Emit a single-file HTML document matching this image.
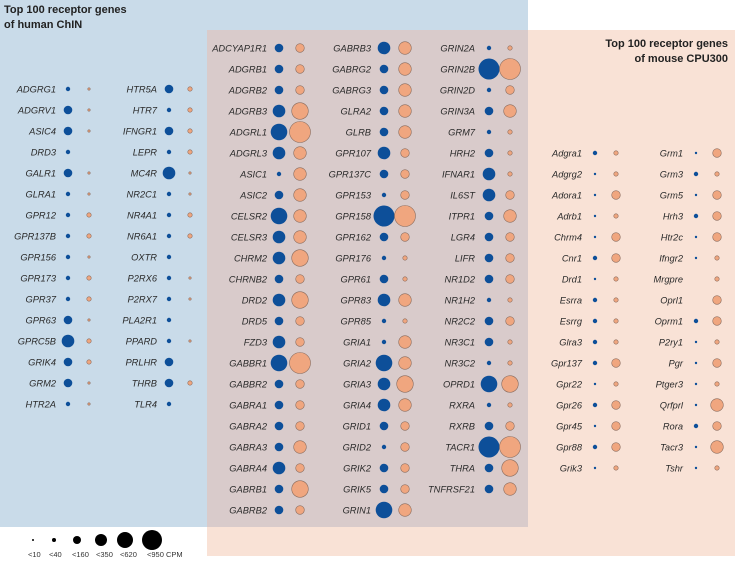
<!DOCTYPE html>
<html><head><meta charset="utf-8"><style>
html,body{margin:0;padding:0;background:#fff;}
svg{display:block;font-family:"Liberation Sans",Arial,sans-serif;}
</style></head><body>
<svg id="chart" width="735" height="561" viewBox="0 0 735 561">
<rect x="0" y="0" width="528" height="527" fill="#c9dbe9"/>
<rect x="207" y="30" width="528" height="526" fill="#f9e2d6"/>
<rect x="207" y="30" width="321" height="497" fill="#d9cbcb"/>
<text x="4" y="13" font-size="11" font-weight="bold" fill="#222">Top 100 receptor genes</text>
<text x="4" y="28" font-size="11" font-weight="bold" fill="#222">of human ChIN</text>
<text x="728" y="47" font-size="11" font-weight="bold" fill="#222" text-anchor="end">Top 100 receptor genes</text>
<text x="728" y="62" font-size="11" font-weight="bold" fill="#222" text-anchor="end">of mouse CPU300</text>
<g id="marks"></g>
<g id="legend"></g>
</svg>
<script>
// size categories: 0:<10 1:<40 2:<160 3:<350 4:<620 5:<950 ; -1 = absent
const sizeLabels = ["<10","<40","<160","<350","<620","<950 CPM"];
const col1Genes = ["ADGRG1","ADGRV1","ASIC4","DRD3","GALR1","GLRA1","GPR12","GPR137B","GPR156","GPR173","GPR37","GPR63","GPRC5B","GRIK4","GRM2","HTR2A"];
const col1Human = [1,2,2,1,2,1,1,1,1,1,1,2,3,2,2,1];
const col1Mouse = [0,0,0,-1,0,0,1,1,0,1,1,0,1,1,0,0];
const col2Genes = ["HTR5A","HTR7","IFNGR1","LEPR","MC4R","NR2C1","NR4A1","NR6A1","OXTR","P2RX6","P2RX7","PLA2R1","PPARD","PRLHR","THRB","TLR4"];
const col2Human = [2,1,2,1,3,1,1,1,1,1,1,1,1,2,2,1];
const col2Mouse = [1,1,1,1,0,0,1,1,-1,0,0,-1,0,-1,1,-1];
const colAGenes = ["ADCYAP1R1","ADGRB1","ADGRB2","ADGRB3","ADGRL1","ADGRL3","ASIC1","ASIC2","CELSR2","CELSR3","CHRM2","CHRNB2","DRD2","DRD5","FZD3","GABBR1","GABBR2","GABRA1","GABRA2","GABRA3","GABRA4","GABRB1","GABRB2"];
const colAHuman = [2,2,2,3,4,3,1,2,4,3,3,2,3,2,3,4,2,2,2,2,3,2,2];
const colAMouse = [2,2,2,4,5,3,3,3,3,3,4,2,4,2,2,5,2,2,2,3,2,4,2];
const colBGenes = ["GABRB3","GABRG2","GABRG3","GLRA2","GLRB","GPR107","GPR137C","GPR153","GPR158","GPR162","GPR176","GPR61","GPR83","GPR85","GRIA1","GRIA2","GRIA3","GRIA4","GRID1","GRID2","GRIK2","GRIK5","GRIN1"];
const colBHuman = [3,2,2,2,2,3,2,1,5,2,1,2,3,1,1,4,3,3,2,1,2,2,4];
const colBMouse = [3,3,3,3,3,2,2,2,5,2,1,1,3,1,3,3,4,3,2,2,2,2,3];
const colCGenes = ["GRIN2A","GRIN2B","GRIN2D","GRIN3A","GRM7","HRH2","IFNAR1","IL6ST","ITPR1","LGR4","LIFR","NR1D2","NR1H2","NR2C2","NR3C1","NR3C2","OPRD1","RXRA","RXRB","TACR1","THRA","TNFRSF21"];
const colCHuman = [1,5,1,2,1,2,3,3,2,2,2,2,1,2,2,1,4,1,2,5,2,2];
const colCMouse = [1,5,2,3,1,1,1,2,3,2,2,2,1,2,1,1,4,1,2,5,4,3];
const colDGenes = ["Adgra1","Adgrg2","Adora1","Adrb1","Chrm4","Cnr1","Drd1","Esrra","Esrrg","Glra3","Gpr137","Gpr22","Gpr26","Gpr45","Gpr88","Grik3"];
const colDHuman = [1,0,0,0,0,1,0,1,1,1,1,0,1,0,1,0];
const colDMouse = [1,1,2,1,2,2,1,1,1,1,2,1,2,2,2,1];
const colEGenes = ["Grm1","Grm3","Grm5","Hrh3","Htr2c","Ifngr2","Mrgpre","Oprl1","Oprm1","P2ry1","Pgr","Ptger3","Qrfprl","Rora","Tacr3","Tshr"];
const colEHuman = [0,1,0,1,0,0,-1,-1,1,0,0,0,0,1,0,0];
const colEMouse = [2,1,2,2,2,1,1,2,2,1,2,1,3,2,3,1];

const NS = "http://www.w3.org/2000/svg";
const radii = [1.2,2.2,4.3,6.3,8.3,10.5];
function rScale(c){ return radii[c]; }
const svgMarks = document.getElementById("marks");
const columns = [
  {g:col1Genes,h:col1Human,m:col1Mouse,lx:56,bx:68,ox:89,y0:89},
  {g:col2Genes,h:col2Human,m:col2Mouse,lx:157,bx:169,ox:190,y0:89},
  {g:colAGenes,h:colAHuman,m:colAMouse,lx:267,bx:279,ox:300,y0:48},
  {g:colBGenes,h:colBHuman,m:colBMouse,lx:371,bx:384,ox:405,y0:48},
  {g:colCGenes,h:colCHuman,m:colCMouse,lx:475,bx:489,ox:510,y0:48},
  {g:colDGenes,h:colDHuman,m:colDMouse,lx:582,bx:595,ox:616,y0:153},
  {g:colEGenes,h:colEHuman,m:colEMouse,lx:683,bx:696,ox:717,y0:153}
];
const rowStep = 21;
function yScale(col,i){ return col.y0 + i*rowStep; }
columns.forEach(function(col){
  col.g.forEach(function(name,i){
    const y = yScale(col,i);
    const t = document.createElementNS(NS,"text");
    t.setAttribute("x",col.lx); t.setAttribute("y",y+3.3);
    t.setAttribute("text-anchor","end"); t.setAttribute("font-size","9.3");
    t.setAttribute("font-style","italic"); t.setAttribute("fill","#2a2a2a");
    t.textContent = name;
    
    
    svgMarks.appendChild(t);
    if (col.h[i] >= 0) {
      const c = document.createElementNS(NS,"circle");
      c.setAttribute("cx",col.bx); c.setAttribute("cy",y); c.setAttribute("r",rScale(col.h[i]));
      c.setAttribute("fill","#0d4f99");
      
      
      svgMarks.appendChild(c);
    }
    if (col.m[i] >= 0) {
      const c = document.createElementNS(NS,"circle");
      c.setAttribute("cx",col.ox); c.setAttribute("cy",y); c.setAttribute("r",rScale(col.m[i]));
      c.setAttribute("fill","#f0a67f"); c.setAttribute("stroke","#8b6b5c"); c.setAttribute("stroke-width","0.6");
      
      
      svgMarks.appendChild(c);
    }
  });
});
const legend = document.getElementById("legend");
const legendX = [33,54,77,101,125,152];
sizeLabels.forEach(function(lbl,i){
  const c = document.createElementNS(NS,"circle");
  c.setAttribute("cx",legendX[i]); c.setAttribute("cy",540); c.setAttribute("r",[1,2,4,6,8,10][i]);
  c.setAttribute("fill","#000");
  
  
  legend.appendChild(c);
  const t = document.createElementNS(NS,"text");
  t.setAttribute("x",legendX[i]-5); t.setAttribute("y",557);
  t.setAttribute("font-size","7.5"); t.setAttribute("fill","#333");
  t.textContent = lbl;
  
  
  legend.appendChild(t);
});
</script>
</body></html>
